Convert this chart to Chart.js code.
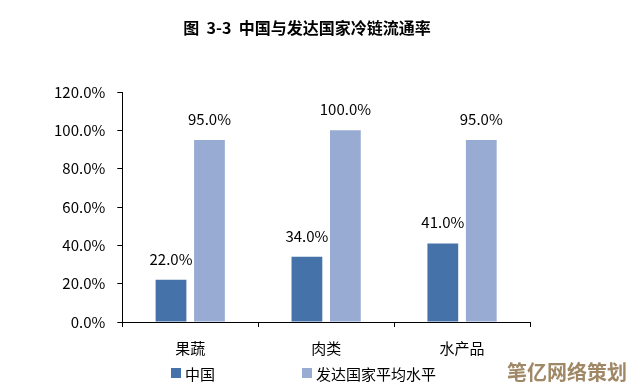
<!DOCTYPE html>
<html>
<head>
<meta charset="utf-8">
<script src="https://cdn.jsdelivr.net/npm/chart.js@4/dist/chart.umd.min.js"></script>
<style>
  html, body { margin: 0; padding: 0; background: #fff; }
  #wrap { position: relative; width: 636px; height: 392px; }
</style>
</head>
<body>
<div id="wrap"><canvas id="c" width="636" height="392"></canvas></div>
<script>
var categories = ['果蔬', '肉类', '水产品'];
var seriesNames = ['中国', '发达国家平均水平'];
var chinaValues = [22.0, 34.0, 41.0];
var developedValues = [95.0, 100.0, 95.0];
var yTicks = [0, 20, 40, 60, 80, 100, 120];
var titleText = '图  3-3  中国与发达国家冷链流通率';
var watermarkText = '笔亿网络策划';

var FONT = '"Noto Sans CJK SC", "Noto Sans", sans-serif';
var colors = ['#4672AA', '#97ABD3'];

// labels above bars, title, legend and watermark
var extrasPlugin = {
    id: 'extras',
    afterDatasetsDraw: function (chart) {
        var ctx = chart.ctx;
        ctx.save();
        ctx.fillStyle = '#000';
        ctx.font = '15px ' + FONT;
        ctx.textAlign = 'center';
        ctx.textBaseline = 'middle';
        chart.data.datasets.forEach(function (ds, i) {
            var meta = chart.getDatasetMeta(i);
            meta.data.forEach(function (bar, j) {
                ctx.fillText(ds.data[j].toFixed(1) + '%', bar.x, bar.y - 21);
            });
        });

        // title
        ctx.font = 'bold 16px ' + FONT;
        ctx.fillText(titleText, 307, 28);

        // legend
        var legendX = [171, 302];
        ctx.font = '15px ' + FONT;
        ctx.textAlign = 'left';
        chart.data.datasets.forEach(function (ds, i) {
            ctx.fillStyle = ds.backgroundColor;
            ctx.fillRect(legendX[i], 368, 10, 10);
            ctx.fillStyle = '#000';
            ctx.fillText(ds.label, legendX[i] + 14, 374);
        });

        // watermark
        ctx.font = 'bold 20px ' + FONT;
        ctx.fillStyle = '#A08866';
        ctx.fillText(watermarkText, 507, 372);
        ctx.restore();
    }
};

new Chart(document.getElementById('c').getContext('2d'), {
    type: 'bar',
    data: {
        labels: categories,
        datasets: [{
            label: seriesNames[0],
            data: chinaValues,
            backgroundColor: colors[0],
            borderWidth: 0
        }, {
            label: seriesNames[1],
            data: developedValues,
            backgroundColor: colors[1],
            borderWidth: 0
        }]
    },
    options: {
        responsive: false,
        animation: false,
        devicePixelRatio: 1,
        layout: {
            padding: { top: 92, bottom: 23, left: 42, right: 106 }
        },
        datasets: {
            bar: {
                categoryPercentage: 0.566,
                barPercentage: 0.8
            }
        },
        plugins: {
            legend: { display: false },
            title: { display: false },
            tooltip: { enabled: false }
        },
        scales: {
            x: {
                grid: {
                    display: true,
                    offset: true,
                    drawOnChartArea: false,
                    drawTicks: true,
                    tickLength: 5,
                    color: '#000'
                },
                border: { color: '#000', width: 1 },
                ticks: {
                    color: '#000',
                    padding: 12,
                    font: { family: FONT, size: 15 }
                }
            },
            y: {
                min: 0,
                max: 120,
                afterBuildTicks: function (axis) {
                    axis.ticks = yTicks.map(function (v) { return { value: v }; });
                },
                grid: {
                    drawOnChartArea: false,
                    drawTicks: true,
                    tickLength: 5,
                    color: '#000'
                },
                border: { color: '#000', width: 1 },
                ticks: {
                    color: '#000',
                    padding: 12,
                    font: { family: FONT, size: 15 },
                    callback: function (v) { return v.toFixed(1) + '%'; }
                }
            }
        }
    },
    plugins: [extrasPlugin]
});
</script>
</body>
</html>
